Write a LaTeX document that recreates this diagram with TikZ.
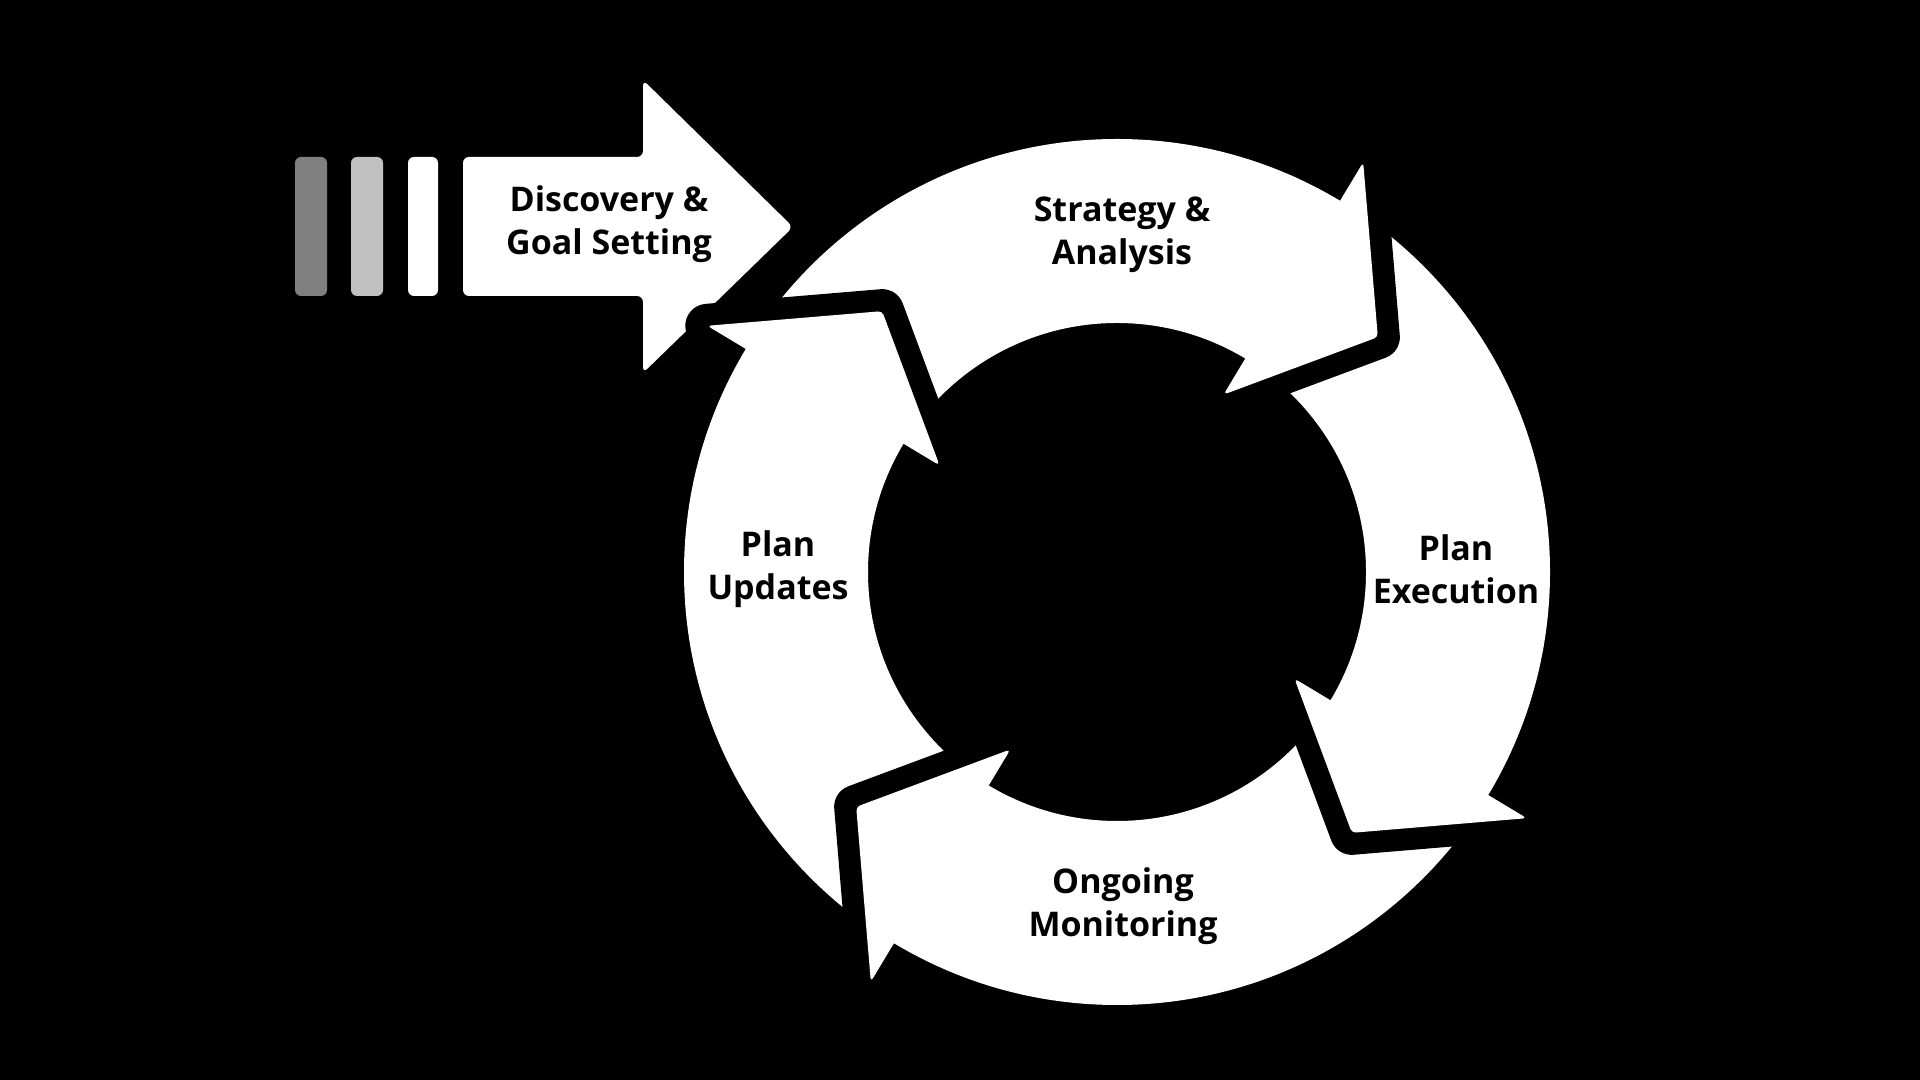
\documentclass[tikz,border=0pt]{standalone}
\usepackage{fontspec}
\setmainfont{Open Sans}
\begin{document}
\begin{tikzpicture}[x=0.5pt,y=0.5pt,
  lbl/.style={font=\fontsize{17}{21.5}\selectfont\bfseries, text=black, align=center},
  bar/.style={rounded corners=3pt}]
\fill[black] (0,0) rectangle (1920,1080);
\useasboundingbox (0,0) rectangle (1920,1080);
% bars
\fill[bar,fill={rgb,255:red,128;green,128;blue,128}] (295,784) rectangle (327,923);
\fill[bar,fill={rgb,255:red,192;green,192;blue,192}] (351,784) rectangle (383,923);
\fill[bar,fill=white] (408,784) rectangle (438,923);
% discovery arrow
\fill[white,rounded corners=3pt] (463,784) -- (463,923) -- (643,923) -- (643,1000) -- (793,853) -- (643,707) -- (643,784) -- cycle;
\node[lbl] (disc) at (609,856) {Discovery \&\\Goal Setting};
% ring
\begin{scope}[shift={(1117,508)}]
\coordinate (C) at (0,0);
\fill[white,even odd rule] (C) circle (433) (C) circle (249);
\foreach \b in {149,59,-31,-121}{
  \draw[black,line width=22pt,line join=round,line cap=round] (\b:478) -- ({\b-17}:351) -- (\b:207);
  \fill[white,rounded corners=2pt] (\b:478) -- ({\b-17}:351) -- (\b:207) -- cycle;
}
\end{scope}
\node[lbl] (sa) at (1122,845) {Strategy \&\\Analysis};
\node[lbl] (pe) at (1456,511) {Plan\\Execution};
\node[lbl] (om) at (1123,174) {Ongoing\\Monitoring};
\node[lbl] (pu) at (778,511) {Plan\\Updates};
\end{tikzpicture}
\end{document}
